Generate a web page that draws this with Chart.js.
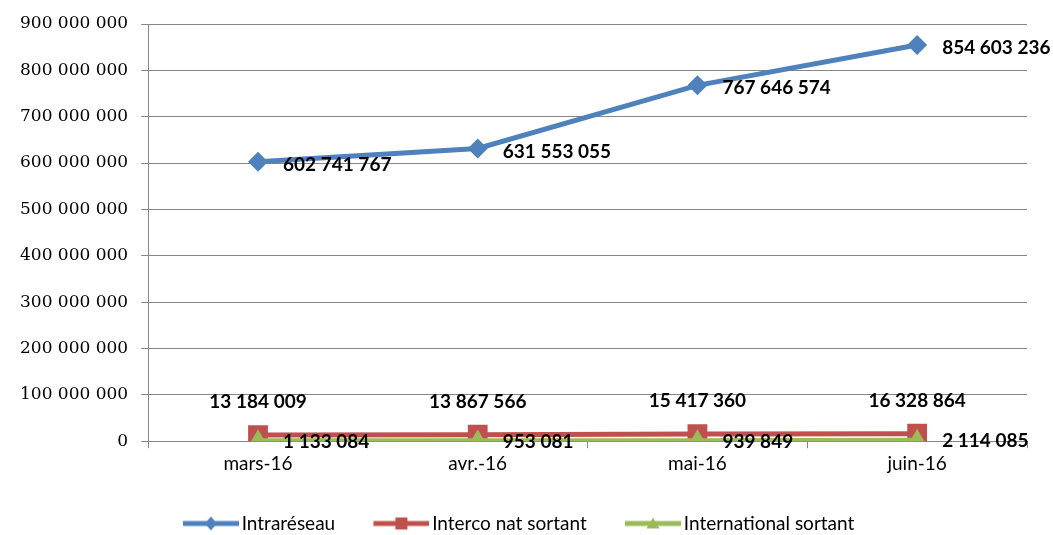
<!DOCTYPE html>
<html>
<head>
<meta charset="utf-8">
<script src="https://cdn.jsdelivr.net/npm/chart.js@4.4.1/dist/chart.umd.min.js"></script>
<style>
  html, body { margin: 0; padding: 0; background: #ffffff; }
  #wrap { width: 1053px; height: 535px; position: relative; }
</style>
</head>
<body>
<div id="wrap"><canvas id="c"></canvas></div>
<script>
// ---- Data ----
const categories = ['mars-16', 'avr.-16', 'mai-16', 'juin-16'];
const seriesNames = ['Intraréseau', 'Interco nat sortant', 'International sortant'];
const intrareseau = [602741767, 631553055, 767646574, 854603236];
const intercoNatSortant = [13184009, 13867566, 15417360, 16328864];
const internationalSortant = [1133084, 953081, 939849, 2114085];
const yTickMin = 0;
const yTickMax = 900000000;
const yTickStep = 100000000;

// ---- Styles ----
const colors = ['#4F81BD', '#C0504D', '#9BBB59'];
const pointStyles = ['rectRot', 'rect', 'triangle'];
const pointRadii = [10, 14, 11.5];
const labelPlacement = [
  { align: 'left', dx: 25, dy: 3 },
  { align: 'center', dx: 0, dy: -33 },
  { align: 'left', dx: 25, dy: 1 }
];

function fmt(v) {
  return String(Math.round(v)).replace(/\B(?=(\d{3})+(?!\d))/g, ' ');
}

function legendImage(i) {
  const cv = document.createElement('canvas');
  cv.width = 66; cv.height = 20;
  const g = cv.getContext('2d');
  g.strokeStyle = colors[i];
  g.fillStyle = colors[i];
  g.lineWidth = 5;
  g.beginPath();
  g.moveTo(10, 10); g.lineTo(66, 10);
  g.stroke();
  const cx = 38, cy = 10;
  g.beginPath();
  if (i === 0) {
    g.moveTo(cx, cy - 7); g.lineTo(cx + 6, cy); g.lineTo(cx, cy + 7); g.lineTo(cx - 6, cy);
  } else if (i === 1) {
    g.rect(cx - 6, cy - 6, 12, 12);
  } else {
    g.moveTo(cx, cy - 6); g.lineTo(cx + 6.5, cy + 5); g.lineTo(cx - 6.5, cy + 5);
  }
  g.closePath();
  g.fill();
  return cv;
}

const valueLabels = {
  id: 'valueLabels',
  afterDatasetsDraw(chart) {
    const ctx = chart.ctx;
    ctx.save();
    ctx.font = 'bold 19px Lato';
    ctx.fillStyle = '#000000';
    ctx.textBaseline = 'middle';
    chart.data.datasets.forEach((ds, i) => {
      const meta = chart.getDatasetMeta(i);
      const pl = labelPlacement[i];
      ctx.textAlign = pl.align;
      meta.data.forEach((pt, j) => {
        ctx.fillText(fmt(ds.data[j]), pt.x + pl.dx, pt.y + pl.dy);
      });
    });
    ctx.restore();
  }
};

const seriesData = [intrareseau, intercoNatSortant, internationalSortant];
const drawOrder = [0, 2, 1];

const datasets = seriesData.map((d, i) => ({
  label: seriesNames[i],
  data: d,
  borderColor: colors[i],
  backgroundColor: colors[i],
  borderWidth: 5,
  pointStyle: pointStyles[i],
  pointRadius: pointRadii[i],
  pointHoverRadius: pointRadii[i],
  pointBackgroundColor: colors[i],
  pointBorderColor: colors[i],
  pointBorderWidth: 0,
  tension: 0,
  fill: false,
  order: drawOrder[i]
}));

Chart.defaults.color = '#000000';
Chart.defaults.font.family = 'Lato';

new Chart(document.getElementById('c'), {
  type: 'line',
  data: { labels: categories, datasets: datasets },
  options: {
    responsive: true,
    maintainAspectRatio: false,
    animation: false,
    layout: { padding: { left: 7, right: 26, top: 24, bottom: -8 } },
    plugins: {
      tooltip: { enabled: false },
      legend: {
        position: 'bottom',
        labels: {
          usePointStyle: true,
          pointStyleWidth: 52.5,
          padding: 35,
          font: { family: 'Lato', size: 19 },
          color: '#000000',
          generateLabels(chart) {
            return chart.data.datasets.map((ds, i) => ({
              text: ds.label,
              pointStyle: legendImage(i),
              fillStyle: colors[i],
              strokeStyle: colors[i],
              lineWidth: 0,
              hidden: false,
              datasetIndex: i
            }));
          }
        }
      }
    },
    scales: {
      x: {
        offset: true,
        grid: {
          offset: true,
          drawOnChartArea: false,
          drawTicks: true,
          tickLength: 7,
          color: '#868686'
        },
        border: { color: '#868686', width: 1 },
        ticks: {
          padding: 4,
          font: { family: 'Lato', size: 19 },
          color: '#000000'
        }
      },
      y: {
        min: yTickMin,
        max: yTickMax,
        grid: { color: '#868686', tickLength: 7, lineWidth: 1 },
        border: { color: '#868686', width: 1 },
        ticks: {
          stepSize: yTickStep,
          padding: 13,
          font: { family: 'DejaVu Serif', size: 17 },
          color: '#000000',
          callback: (v) => fmt(v)
        }
      }
    }
  },
  plugins: [valueLabels]
});
</script>
</body>
</html>
